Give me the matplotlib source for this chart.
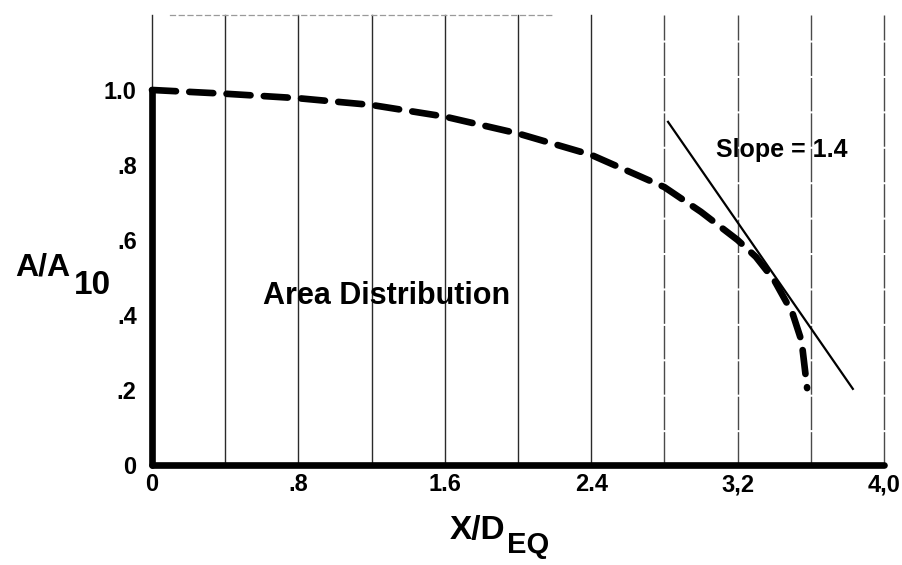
import numpy as np
import matplotlib
matplotlib.use("Agg")
import matplotlib.pyplot as plt

plt.rcParams['font.family'] = ['Liberation Sans', 'DejaVu Sans']

# Area distribution curve A/A10 versus X/D_EQ
x_dist = [0.0, 0.4, 0.8, 1.2, 1.6, 2.0, 2.4, 2.8, 3.0, 3.2, 3.3, 3.4, 3.5, 3.55, 3.58]
a_dist = [1.0, 0.99, 0.978, 0.96, 0.929, 0.884, 0.827, 0.741, 0.675, 0.60, 0.555, 0.493, 0.405, 0.33, 0.205]

# Tangent line labelled "Slope = 1.4"
x_slope = [2.82, 3.83]
a_slope = [0.915, 0.203]

x_ticks = [0.0, 0.8, 1.6, 2.4, 3.2, 4.0]
x_tick_labels = ["0", ".8", "1.6", "2.4", "3,2", "4,0"]
x_grid = [0.0, 0.4, 0.8, 1.2, 1.6, 2.0, 2.4, 2.8, 3.2, 3.6, 4.0]
y_ticks = [0.0, 0.2, 0.4, 0.6, 0.8, 1.0]
y_tick_labels = ["0", ".2", ".4", ".6", ".8", "1.0"]

fig = plt.figure(figsize=(9.02, 5.65), dpi=100)
ax = fig.add_axes([0.1685, 0.177, 0.8115, 0.7965])
ax.set_xlim(0, 4.0)
ax.set_ylim(0, 1.2)

ax.set_xticks(x_ticks)
ax.set_xticklabels(x_tick_labels)
ax.set_yticks(y_ticks)
ax.set_yticklabels(y_tick_labels)
ax.tick_params(axis='both', which='both', length=0)
ax.tick_params(axis='x', pad=6, labelsize=17)
ax.tick_params(axis='y', pad=11, labelsize=17)
for lab in ax.get_xticklabels() + ax.get_yticklabels():
    lab.set_fontweight('bold')

# vertical grid: solid on the left, fainter broken lines on the right
for xv in x_grid:
    if xv < 2.7:
        ax.axvline(xv, color='#2a2a2a', lw=1.0, zorder=1, clip_on=False)
    else:
        ax.axvline(xv, color='#4a4a4a', lw=1.0, ls=(0, (24, 1.5)), zorder=1,
                   clip_on=False)

ax.spines['right'].set_visible(False)
ax.spines['top'].set_bounds(0.1, 2.2)
ax.spines['top'].set_linestyle((0, (4, 3)))
ax.spines['top'].set_color('#9a9a9a')
ax.spines['top'].set_linewidth(0.9)
ax.spines['left'].set_bounds(0.0, 1.0)
ax.spines['left'].set_linewidth(4.8)
ax.spines['left'].set_capstyle('round')
ax.spines['left'].set_zorder(3)
ax.spines['bottom'].set_linewidth(4.8)
ax.spines['bottom'].set_capstyle('round')
ax.spines['bottom'].set_zorder(3)

ax.plot(x_dist, a_dist, color='black', lw=4.8, linestyle=(0, (3.6, 2.0)),
        dash_capstyle='round', clip_on=False, zorder=4)
ax.plot(x_slope, a_slope, color='black', lw=1.6, clip_on=False, zorder=4)

ax.text(3.08, 0.84, "Slope = 1.4", fontsize=18, fontweight='bold',
        ha='left', va='center')
ax.text(0.607, 0.45, "Area Distribution", fontsize=22, fontweight='bold',
        ha='left', va='center')

# axis titles with lowered subscripts
fig.text(15 / 902, 1 - 268 / 565, "A/A", fontsize=23, fontweight='bold',
         ha='left', va='center')
fig.text(74 / 902, 1 - 285 / 565, "10", fontsize=24, fontweight='bold',
         ha='left', va='center')
fig.text(450 / 902, 1 - 530 / 565, "X/D", fontsize=24, fontweight='bold',
         ha='left', va='center')
fig.text(507 / 902, 1 - 545 / 565, "EQ", fontsize=21, fontweight='bold',
         ha='left', va='center')

fig.savefig("out.png", dpi=100)
